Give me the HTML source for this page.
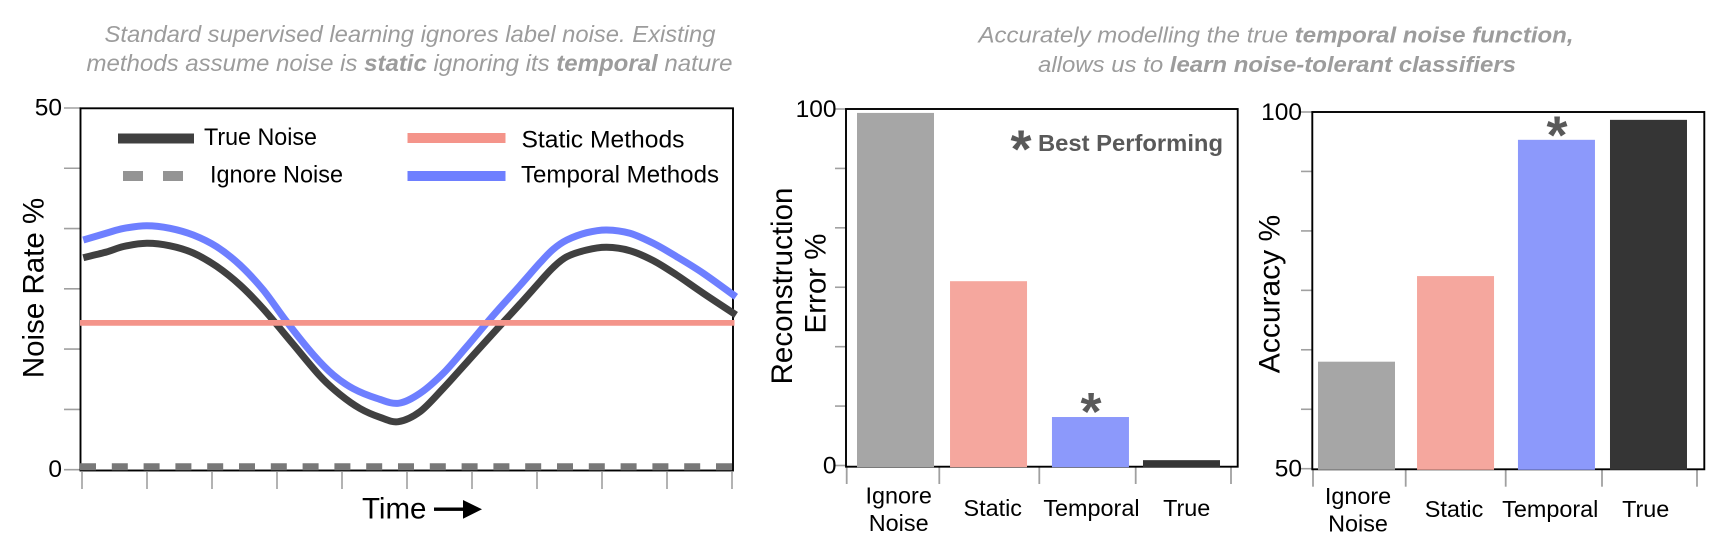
<!DOCTYPE html>
<html lang="en">
<head>
<meta charset="utf-8">
<title>Temporal label noise charts</title>
<style>
html,body{margin:0;padding:0;background:#fff;width:1713px;height:538px;overflow:hidden}
svg{display:block}
text{font-family:"Liberation Sans",Arial,sans-serif}
.note{font-style:italic;font-size:23.5px;fill:#9c9c9c}
.noter{font-style:italic;font-size:22.6px;fill:#9c9c9c}
tspan.b{font-weight:700}
.leg{font-size:23.6px;fill:#000}
.axt{font-size:29.5px;fill:#000}
</style>
</head>
<body>
<svg id="figure" xmlns="http://www.w3.org/2000/svg" width="1713" height="538" viewBox="0 0 1713 538">
  <text class="note" x="104.5" y="42" textLength="611" lengthAdjust="spacingAndGlyphs">Standard supervised learning ignores label noise. Existing</text>
  <text class="note" x="86.5" y="71" textLength="646" lengthAdjust="spacingAndGlyphs">methods assume noise is <tspan class="b">static</tspan> ignoring its <tspan class="b">temporal</tspan> nature</text>
  <text class="noter" x="978.5" y="42.5" textLength="595" lengthAdjust="spacingAndGlyphs">Accurately modelling the true <tspan class="b">temporal noise function,</tspan></text>
  <text class="noter" x="1038" y="72" textLength="478" lengthAdjust="spacingAndGlyphs">allows us to <tspan class="b">learn noise-tolerant classifiers</tspan></text>

  <g id="line-chart"></g>
  <g id="error-chart"></g>
  <g id="accuracy-chart"></g>

  <g>
    <rect x="118" y="133.5" width="76" height="10" fill="#404040"/>
    <text class="leg" x="204" y="145" textLength="113" lengthAdjust="spacingAndGlyphs">True Noise</text>
    <rect x="123" y="171" width="20" height="10" fill="#949494"/>
    <rect x="163" y="171" width="20" height="10" fill="#949494"/>
    <text class="leg" x="210" y="182.5" textLength="133" lengthAdjust="spacingAndGlyphs">Ignore Noise</text>
    <rect x="407.5" y="133" width="98" height="10" fill="#f4948a"/>
    <text class="leg" x="521.5" y="147.5" textLength="163" lengthAdjust="spacingAndGlyphs">Static Methods</text>
    <rect x="407.5" y="171" width="98" height="10" fill="#6e7fff"/>
    <text class="leg" x="521" y="182.5" textLength="198" lengthAdjust="spacingAndGlyphs">Temporal Methods</text>
  </g>

  <text class="axt" transform="translate(43.7 288) rotate(-90)" text-anchor="middle">Noise Rate %</text>
  <text class="axt" x="362" y="518.5">Time</text>
  <g>
    <rect x="434" y="507.5" width="30" height="3.4" fill="#000"/>
    <polygon points="463,500 482,509.3 463,518.7" fill="#000"/>
  </g>

  <text class="axt" transform="translate(792 286) rotate(-90)" text-anchor="middle">Reconstruction</text>
  <text class="axt" transform="translate(825.7 283.5) rotate(-90)" text-anchor="middle">Error %</text>
  <text class="axt" transform="translate(1279.7 294) rotate(-90)" text-anchor="middle" style="font-size:30px">Accuracy %</text>

  <text x="1021" y="167.5" text-anchor="middle" font-size="54" font-weight="700" fill="#595959">*</text>
  <text x="1038" y="151" font-size="23" font-weight="700" fill="#595959" textLength="185" lengthAdjust="spacingAndGlyphs">Best Performing</text>
  <text x="1091" y="430" text-anchor="middle" font-size="54" font-weight="700" fill="#595959">*</text>
  <text x="1557" y="153.5" text-anchor="middle" font-size="54" font-weight="700" fill="#595959">*</text>
</svg>

<script>
// ---- Noise rate over time (time as % of the window, noise rate in %)
const trueTime = [0.35, 3.9, 6.5, 10.05, 13.61, 17.17, 20.75, 24.31, 27.9, 32.2, 36.54, 39.6, 42.66, 45.72, 48.52, 51.83, 55.4, 58.97, 62.08, 64.53, 67.13, 70.18, 72.2, 74.3, 77.32, 80.38, 83.94, 87.51, 91.09, 95.15, 100.15];
const trueRate = [29.31, 30.1, 30.85, 31.3, 30.95, 29.95, 28.1, 25.53, 22.2, 17.6, 12.95, 10.4, 8.46, 7.24, 6.64, 8.02, 11.25, 14.82, 17.93, 20.35, 22.91, 25.99, 27.97, 29.44, 30.37, 30.74, 30.27, 28.9, 26.91, 24.38, 21.4];
const temporalTime = [0.35, 3.9, 6.5, 10.05, 13.61, 17.17, 20.75, 24.31, 27.87, 31.45, 35.52, 38.58, 41.64, 45.21, 48.52, 51.83, 55.4, 58.97, 62.03, 64.07, 67.13, 70.18, 72.2, 74.3, 77.32, 80.38, 83.94, 87.51, 91.09, 95.15, 100.15];
const temporalRate = [31.75, 32.7, 33.35, 33.73, 33.37, 32.44, 30.83, 28.3, 24.84, 20.46, 15.9, 13.1, 11.2, 9.87, 9.18, 10.56, 13.33, 17, 20.28, 22.4, 25.46, 28.6, 30.47, 31.75, 32.76, 33.13, 32.68, 31.3, 29.44, 27.15, 23.9];
const staticRate = 20.3;
const ignoreRate = 0.4;
const rateTicks = [0, 8.33, 16.67, 25, 33.33, 41.67, 50];
const rateTickLabels = ["0", "", "", "", "", "", "50"];
const timeTicks = [0, 10, 20, 30, 40, 50, 60, 70, 80, 90, 100];

// ---- Reconstruction error bars
const errorValues = [98.9, 51.7, 13.6, 1.5];
const errorTicks = [0, 16.67, 33.33, 50, 66.67, 83.33, 100];
const errorTickLabels = ["0", "", "", "", "", "", "100"];

// ---- Accuracy bars
const accuracyValues = [65, 77, 96.1, 98.9];
const accuracyTicks = [50, 58.33, 66.67, 75, 83.33, 91.67, 100];
const accuracyTickLabels = ["50", "", "", "", "", "", "100"];

// ---- Shared categories
const categoryKeys = ["ignore", "static", "temporal", "true"];
const categoryLines = [["Ignore", "Noise"], ["Static"], ["Temporal"], ["True"]];
const categoryColors = ["#a6a6a6", "#f5a79e", "#8c99fb", "#353535"];

const NS = "http://www.w3.org/2000/svg";
function mk(parent, tag, attrs, txt) {
  const el = document.createElementNS(NS, tag);
  for (const k in attrs) el.setAttribute(k, attrs[k]);
  if (txt !== undefined) el.textContent = txt;
  parent.appendChild(el);
  return el;
}
function smoothPath(pts) {
  let d = "M" + pts[0][0].toFixed(1) + " " + pts[0][1].toFixed(1);
  for (let i = 0; i < pts.length - 1; i++) {
    const p0 = pts[Math.max(i - 1, 0)], p1 = pts[i], p2 = pts[i + 1], p3 = pts[Math.min(i + 2, pts.length - 1)];
    const c1x = p1[0] + (p2[0] - p0[0]) / 6, c1y = p1[1] + (p2[1] - p0[1]) / 6;
    const c2x = p2[0] - (p3[0] - p1[0]) / 6, c2y = p2[1] - (p3[1] - p1[1]) / 6;
    d += "C" + c1x.toFixed(1) + " " + c1y.toFixed(1) + " " + c2x.toFixed(1) + " " + c2y.toFixed(1) + " " + p2[0].toFixed(1) + " " + p2[1].toFixed(1);
  }
  return d;
}
function drawFrame(g, box) {
  const r = mk(g, "rect", { x: box.l, y: box.t, width: box.r - box.l, height: box.b - box.t, fill: "none", stroke: "#000", "stroke-width": 1.9 });
  
  
}
function drawYAxis(g, ticks, labels, yScale, tickLeft, right, labelRight, labelDy) {
  ticks.forEach(function (v, i) {
    const y = yScale(v);
    const t = mk(g, "line", { x1: tickLeft, x2: right, y1: y, y2: y, stroke: "#a0a0a0", "stroke-width": 1.6 });
    
    
    if (labels[i]) {
      const lab = mk(g, "text", { x: labelRight, y: y + labelDy, "text-anchor": "end", "font-size": 24.5, fill: "#000" }, labels[i]);
      
      
    }
  });
}

// ---- Line chart
(function () {
  const g = document.getElementById("line-chart");
  const box = { l: 80.5, r: 733, t: 108.3, b: 470.5 };
  const xTime = function (t) { return 81 + t * 6.54; };
  const xTick = function (t) { return 82 + t * 6.5; };
  const yRate = function (v) { return 469.7 - v * 7.234; };
  drawYAxis(g, rateTicks, rateTickLabels, yRate, 64, box.l, 62, 7.3);
  timeTicks.forEach(function (t) {
    const tick = mk(g, "line", { x1: xTick(t), x2: xTick(t), y1: 472, y2: 489, stroke: "#a0a0a0", "stroke-width": 1.6 });
    
    
  });
  drawFrame(g, box);

  const ignore = mk(g, "line", { x1: 80, x2: 732, y1: yRate(ignoreRate), y2: yRate(ignoreRate), stroke: "#787878", "stroke-width": 7, "stroke-dasharray": "16 15.8" });
  
  

  const tp = trueTime.map(function (t, i) { return [xTime(t), yRate(trueRate[i])]; });
  const trueLine = mk(g, "path", { d: smoothPath(tp), fill: "none", stroke: "#404040", "stroke-width": 7 });
  
  

  const bp = temporalTime.map(function (t, i) { return [xTime(t), yRate(temporalRate[i])]; });
  const tempLine = mk(g, "path", { d: smoothPath(bp), fill: "none", stroke: "#6e7fff", "stroke-width": 7 });
  
  

  const st = mk(g, "line", { x1: 80, x2: 734.5, y1: yRate(staticRate), y2: yRate(staticRate), stroke: "#f4948a", "stroke-width": 5.7 });
  
  
})();

// ---- Bar charts
function drawBars(g, cfg) {
  drawYAxis(g, cfg.ticks, cfg.tickLabels, cfg.y, cfg.tickLeft, cfg.box.l, cfg.labelRight, 7.8);
  cfg.xTicks.forEach(function (x) {
    const tick = mk(g, "line", { x1: x, x2: x, y1: cfg.box.b, y2: cfg.tickEnd, stroke: "#a0a0a0", "stroke-width": 1.8 });
    
    
  });
  drawFrame(g, cfg.box);
  cfg.values.forEach(function (v, i) {
    const cx = cfg.barCenter(i);
    const top = cfg.y(v);
    const bar = mk(g, "rect", { x: cx - 38.5, y: top, width: 77, height: cfg.box.b + 0.5 - top, fill: categoryColors[i] });
    
    
    const lines = categoryLines[i];
    lines.forEach(function (s, j) {
      const by = lines.length > 1 ? cfg.twoLineY + j * 27.5 : cfg.oneLineY;
      const lab = mk(g, "text", { x: cfg.labelCenter(i), y: by, "text-anchor": "middle", "font-size": 23.4, fill: "#000" }, s);
      
      
    });
  });
}
(function () {
  const barNudge = [0, -2.3, 4.3, 0];
  const labelNudge = [3.2, 4.2, 1, 5.2];
  drawBars(document.getElementById("error-chart"), {
    box: { l: 846, r: 1237.7, t: 109, b: 466.7 },
    y: function (v) { return 465.5 - v * 3.565; },
    ticks: errorTicks, tickLabels: errorTickLabels, values: errorValues,
    tickLeft: 835, labelRight: 836.5, tickEnd: 484,
    xTicks: [846.7, 939.3, 1039.3, 1135.7, 1231],
    barCenter: function (i) { return 895.5 + i * 95.33 + barNudge[i]; },
    labelCenter: function (i) { return 895.5 + i * 95.33 + barNudge[i] + labelNudge[i]; },
    twoLineY: 503.5, oneLineY: 516
  });
})();
(function () {
  const barNudge = [0, 1.7, 5.3, 0];
  const labelNudge = [1.5, -1.5, -6.2, -2.8];
  drawBars(document.getElementById("accuracy-chart"), {
    box: { l: 1312.3, r: 1704.3, t: 112, b: 469.3 },
    y: function (v) { return 468.7 - (v - 50) * 7.134; },
    ticks: accuracyTicks, tickLabels: accuracyTickLabels, values: accuracyValues,
    tickLeft: 1301, labelRight: 1302, tickEnd: 486.7,
    xTicks: [1313, 1405.7, 1505.7, 1602, 1697],
    barCenter: function (i) { return 1356.5 + i * 97.33 + barNudge[i]; },
    labelCenter: function (i) { return 1356.5 + i * 97.33 + barNudge[i] + labelNudge[i]; },
    twoLineY: 504, oneLineY: 517
  });
})();
</script>
</body>
</html>
